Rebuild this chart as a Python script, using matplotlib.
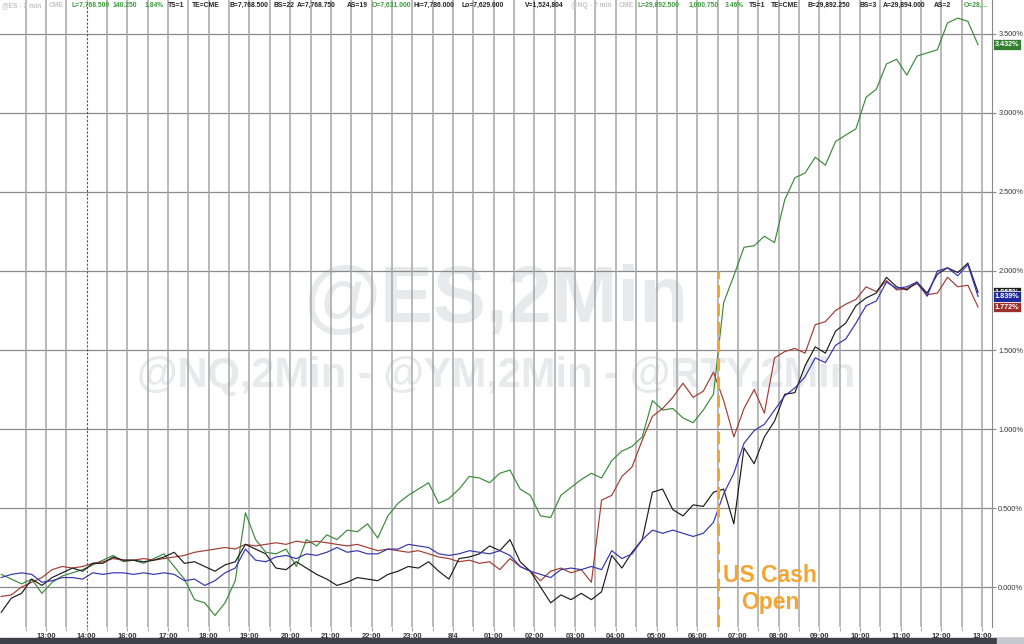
import numpy as np
import matplotlib
matplotlib.use("Agg")
import matplotlib.pyplot as plt
from matplotlib.patches import Rectangle
from matplotlib.transforms import blended_transform_factory

plt.rcParams['font.family'] = ['Liberation Sans', 'DejaVu Sans']

# 15 min samples, time in hours counted from the first "13:00" label
t_start = -1.1
t_step = 0.25

# % change
nq = [0.08, 0.05, 0.02, 0.05, -0.04, 0.03, 0.07, 0.09, 0.11, 0.14,
      0.17, 0.20, 0.16, 0.17, 0.15, 0.18, 0.21, 0.13, 0.05, -0.08,
      -0.10, -0.18, -0.10, 0.04, 0.47, 0.30, 0.22, 0.21, 0.24, 0.13,
      0.30, 0.26, 0.33, 0.30, 0.36, 0.35, 0.40, 0.31, 0.45, 0.53,
      0.58, 0.62, 0.66, 0.53, 0.56, 0.62, 0.70, 0.69, 0.66, 0.72,
      0.74, 0.62, 0.58, 0.45, 0.44, 0.58, 0.63, 0.68, 0.72, 0.69,
      0.80, 0.86, 0.89, 0.95, 1.18, 1.12, 1.13, 1.07, 1.04, 1.12,
      1.22, 1.80, 1.97, 2.15, 2.16, 2.22, 2.18, 2.45, 2.59, 2.62,
      2.72, 2.67, 2.82, 2.86, 2.90, 3.10, 3.15, 3.31, 3.34, 3.24,
      3.36, 3.38, 3.40, 3.57, 3.60, 3.58, 3.432]
es = [-0.16, -0.07, -0.04, 0.05, 0.01, 0.06, 0.09, 0.12, 0.10, 0.15,
      0.15, 0.19, 0.17, 0.17, 0.16, 0.17, 0.19, 0.22, 0.15, 0.16,
      0.13, 0.10, 0.14, 0.16, 0.27, 0.24, 0.21, 0.12, 0.11, 0.16,
      0.12, 0.08, 0.05, 0.01, 0.03, 0.06, 0.05, 0.04, 0.08, 0.10,
      0.13, 0.12, 0.16, 0.10, 0.05, 0.18, 0.19, 0.21, 0.26, 0.23,
      0.30, 0.16, 0.10, 0.00, -0.10, -0.05, -0.08, -0.04, -0.08, -0.03,
      0.20, 0.12, 0.22, 0.30, 0.60, 0.62, 0.49, 0.45, 0.52, 0.51,
      0.60, 0.62, 0.40, 0.88, 0.78, 0.95, 1.05, 1.22, 1.23, 1.40,
      1.52, 1.48, 1.62, 1.67, 1.78, 1.83, 1.86, 1.96, 1.90, 1.88,
      1.93, 1.86, 1.98, 2.02, 1.99, 2.05, 1.865]
ym = [0.06, 0.08, 0.09, 0.08, 0.03, 0.04, 0.06, 0.06, 0.05, 0.09,
      0.08, 0.09, 0.09, 0.08, 0.09, 0.08, 0.09, 0.08, 0.04, 0.05,
      0.01, 0.04, 0.09, 0.12, 0.24, 0.17, 0.16, 0.19, 0.20, 0.18,
      0.21, 0.20, 0.22, 0.25, 0.22, 0.23, 0.21, 0.21, 0.24, 0.24,
      0.27, 0.26, 0.25, 0.21, 0.20, 0.21, 0.23, 0.22, 0.21, 0.23,
      0.20, 0.13, 0.10, 0.08, 0.06, 0.11, 0.12, 0.11, 0.13, 0.11,
      0.23, 0.18, 0.21, 0.30, 0.36, 0.34, 0.36, 0.34, 0.32, 0.34,
      0.41, 0.59, 0.72, 0.91, 0.99, 1.03, 1.12, 1.21, 1.26, 1.33,
      1.45, 1.42, 1.53, 1.57, 1.67, 1.78, 1.81, 1.93, 1.89, 1.90,
      1.93, 1.84, 2.00, 2.02, 1.97, 2.04, 1.839]
rty = [-0.06, -0.05, 0.00, 0.03, 0.06, 0.11, 0.13, 0.12, 0.13, 0.15,
       0.16, 0.18, 0.17, 0.17, 0.18, 0.17, 0.18, 0.19, 0.20, 0.22,
       0.23, 0.24, 0.25, 0.24, 0.27, 0.26, 0.27, 0.28, 0.27, 0.29,
       0.28, 0.29, 0.28, 0.27, 0.26, 0.27, 0.25, 0.23, 0.24, 0.23,
       0.22, 0.23, 0.21, 0.19, 0.18, 0.16, 0.17, 0.15, 0.16, 0.11,
       0.18, 0.13, 0.10, 0.04, 0.10, 0.12, 0.09, 0.11, 0.03, 0.55,
       0.58, 0.70, 0.76, 0.93, 1.08, 1.13, 1.20, 1.29, 1.20, 1.24,
       1.36, 1.18, 0.95, 1.13, 1.25, 1.10, 1.45, 1.49, 1.51, 1.48,
       1.66, 1.68, 1.75, 1.79, 1.82, 1.90, 1.87, 1.94, 1.88, 1.89,
       1.92, 1.85, 1.86, 1.96, 1.90, 1.91, 1.772]

hour_labels = ["13:00", "14:00", "16:00", "17:00", "18:00", "19:00", "20:00",
               "21:00", "22:00", "23:00", "8/4", "01:00", "02:00", "03:00",
               "04:00", "05:00", "06:00", "07:00", "08:00", "09:00", "10:00",
               "11:00", "12:00", "13:00"]
open_time = 16.5
session_mark = 1.0

t = t_start + t_step * np.arange(len(nq))

fig = plt.figure(figsize=(10.24, 6.44), dpi=100)
ax = fig.add_axes([0, 17 / 644, 992 / 1024, 627 / 644])
ax.set_xlim(-1.13, 23.243)
ax.set_ylim(-0.253, 3.715)

# watermark
ax.text(0.5, 0.4865, "@ES,2Min", transform=ax.transAxes, ha='center', va='baseline',
        fontsize=57, fontweight='bold', color='#e7e9ed', zorder=0)
ax.text(0.5, 0.383, "@NQ,2Min - @YM,2Min - @RTY,2Min", transform=ax.transAxes,
        ha='center', va='baseline', fontsize=30, fontweight='bold', color='#e7e9ed', zorder=0)

# grid
for h in np.arange(-0.5, 23.01, 0.5):
    if h == session_mark:
        ax.axvline(h, color='#555555', lw=0.8, ls=(0, (2, 1.5)), zorder=1)
    else:
        ax.axvline(h, color='#a6a6a6', lw=1.1, zorder=1)
ax.set_yticks(np.arange(0, 3.51, 0.5))
ax.set_yticklabels(["%.3f%%" % v for v in np.arange(0, 3.51, 0.5)])
ax.grid(axis='y', color='#8a8a8a', lw=0.9, zorder=1)
ax.set_axisbelow(True)

ax.plot(t, nq, color='#3a8a3a', lw=0.85, zorder=3)
ax.plot(t, rty, color='#a33b33', lw=0.85, zorder=3)
ax.plot(t, es, color='#1c1c1c', lw=0.85, zorder=3)
ax.plot(t, ym, color='#3434b0', lw=0.85, zorder=3)

ax.vlines(open_time, -0.253, 2.0, color='#f2a533', lw=2.2, linestyles=(0, (4, 2)), zorder=4)
ax.text(17.79, 0.03, "US Cash", ha='center', va='baseline', fontsize=16.5,
        fontweight='bold', color='#f2a533', zorder=5)
ax.text(17.79, -0.139, "Open", ha='center', va='baseline', fontsize=16.5,
        fontweight='bold', color='#f2a533', zorder=5)

# axes styling
for s in ['left', 'top', 'bottom']:
    ax.spines[s].set_visible(False)
ax.spines['right'].set_color('#888888')
ax.yaxis.tick_right()
ax.tick_params(axis='y', length=3, pad=1.5, labelsize=5.3, colors='#333333', color='#888888')
ax.set_xticks(range(len(hour_labels)))
ax.set_xticklabels(hour_labels, fontsize=5.5, fontweight='bold', color='#333333')
ax.set_xticks(np.arange(-0.5, 23.01, 1.0), minor=True)
ax.tick_params(axis='x', which='both', length=3, pad=1, color='#a6a6a6')

# last value tags (the black one sits mostly behind the blue one, as in the source)
tr = blended_transform_factory(ax.transAxes, ax.transData)
for series, col in [(es, '#1c1c1c'), (ym, '#1e2a9c'), (rty, '#9b2f2a'), (nq, '#2f7f2f')]:
    v = series[-1]
    ax.annotate("%.3f%%" % v, xy=(1.0, v), xycoords=tr, xytext=(2, 0),
                textcoords='offset points', ha='left', va='center', fontsize=5.2,
                fontweight='bold', color='white', annotation_clip=False, zorder=6,
                bbox=dict(boxstyle='square,pad=0.25', fc=col, ec='white', lw=0.5))

# header line
header = [(2, "@ES - 2 min", '#c4c4c4'), (49, "CME", '#c4c4c4'),
          (72, "L=7,768.500", '#3d9a3d'), (113, "140.250", '#3d9a3d'), (145, "1.84%", '#3d9a3d'),
          (168, "TS=1", '#222222'), (192, "TE=CME", '#222222'), (229, "B=7,768.500", '#222222'),
          (274, "BS=22", '#222222'), (297, "A=7,768.750", '#222222'), (347, "AS=19", '#222222'),
          (372, "O=7,631.000", '#3d9a3d'), (414, "Hi=7,786.000", '#222222'),
          (462, "Lo=7,629.000", '#222222'), (525, "V=1,524,804", '#222222'),
          (571, "@NQ - 2 min", '#c4c4c4'), (619, "CME", '#c4c4c4'),
          (638, "L=29,892.500", '#3d9a3d'), (689, "1,000.750", '#3d9a3d'), (725, "3.46%", '#3d9a3d'),
          (749, "TS=1", '#222222'), (771, "TE=CME", '#222222'), (808, "B=29,892.250", '#222222'),
          (859, "BS=3", '#222222'), (883, "A=29,894.000", '#222222'), (934, "AS=2", '#222222'),
          (964, "O=28,...", '#3d9a3d')]
for px, s, col in header:
    fig.text(px / 1024, 1 - 5.5 / 644, s, fontsize=4.9, fontweight='bold', color=col,
             va='center', ha='left')

# bottom scroll bar
fig.add_artist(Rectangle((0, 0), 1, 6 / 644, transform=fig.transFigure,
                         color='#3d414a', zorder=10))
fig.add_artist(Rectangle((997 / 1024, 0), 27 / 1024, 6 / 644, transform=fig.transFigure,
                         color='#c5c8cc', zorder=11))

fig.savefig("out.png", dpi=100)
plt.close()
